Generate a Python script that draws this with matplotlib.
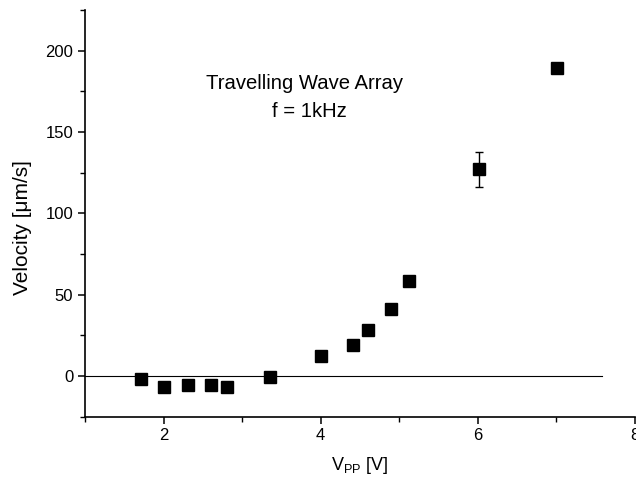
import matplotlib
matplotlib.use('Agg')
import matplotlib.pyplot as plt
from matplotlib.ticker import MultipleLocator

plt.rcParams['font.family'] = ['Liberation Sans', 'DejaVu Sans']
plt.rcParams['mathtext.fontset'] = 'custom'
plt.rcParams['mathtext.rm'] = 'Liberation Sans'
plt.rcParams['mathtext.it'] = 'Liberation Sans:italic'

# data
vpp = [1.71, 2.0, 2.31, 2.61, 2.81, 3.36, 4.0, 4.41, 4.60, 4.90, 5.13, 6.02, 7.01]
velocity = [-2.0, -6.8, -5.7, -5.5, -6.5, -0.4, 12.5, 18.9, 28.1, 40.9, 58.5, 127.0, 189.3]
vel_err = [0, 0, 0, 0, 0, 0, 0, 1.5, 0, 0, 0, 11.0, 0]

fig = plt.figure(figsize=(6.36, 4.87), dpi=100)
ax = fig.add_axes([0.1336, 0.1444, 0.8644, 0.8351])

ax.plot([1, 7.58], [0, 0], color='black', lw=0.8)
ax.errorbar(vpp, velocity, yerr=vel_err, fmt='s', color='black', ms=8.5,
            ecolor='black', elinewidth=1.0, capsize=3, capthick=1.0)

# annotation, two lines
ax.text(3.80, 179.6, 'Travelling Wave Array', ha='center', va='center', fontsize=14.6)
ax.text(3.86, 162.7, 'f = 1kHz', ha='center', va='center', fontsize=14.6)

ax.set_xlim(1, 8)
ax.set_ylim(-25, 225)
ax.xaxis.set_major_locator(MultipleLocator(2))
ax.xaxis.set_minor_locator(MultipleLocator(1))
ax.yaxis.set_major_locator(MultipleLocator(50))
ax.yaxis.set_minor_locator(MultipleLocator(25))

for s in ['top', 'right']:
    ax.spines[s].set_visible(False)
for s in ['left', 'bottom']:
    ax.spines[s].set_linewidth(1.2)

ax.tick_params(which='major', direction='out', length=5, width=1.1, labelsize=12)
ax.tick_params(which='minor', direction='out', length=3.5, width=1.0)

ax.set_xlabel(r'V$_{\mathrm{PP}}$ [V]', fontsize=13, labelpad=8)
ax.set_ylabel('Velocity [\u03bcm/s]', fontsize=15)
ax.yaxis.set_label_coords(-0.096, 0.465)

fig.savefig('out.png', dpi=100)
